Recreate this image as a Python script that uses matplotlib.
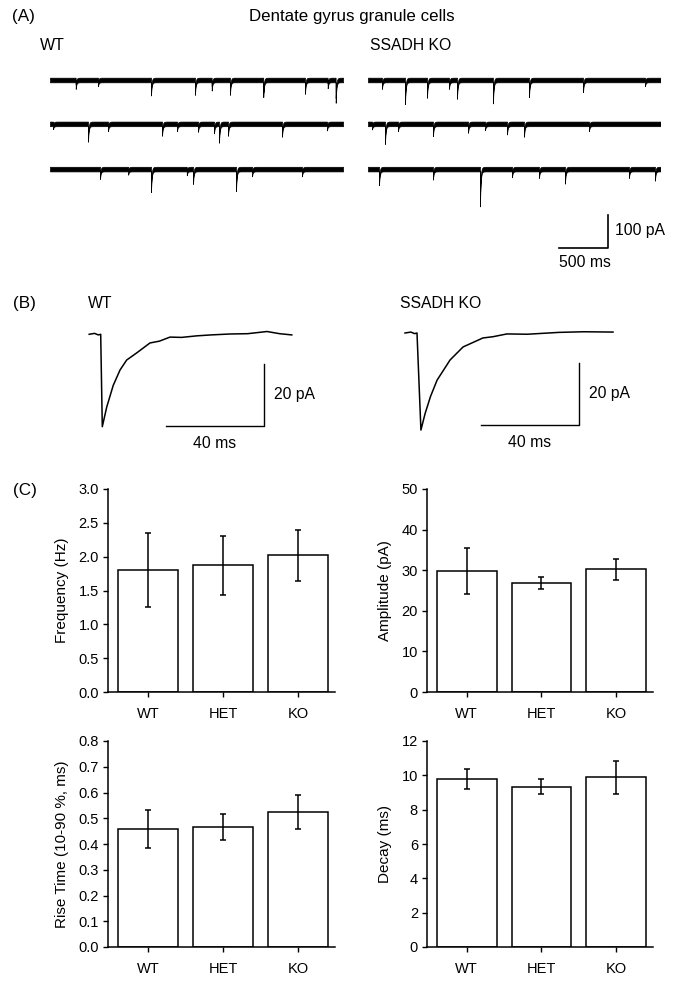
import numpy as np
from matplotlib import pyplot as plt

plt.rcParams['font.family'] = ['Liberation Sans', 'DejaVu Sans']

W, H = 678, 982

# --- (A) mEPSC events: (time ms, amplitude pA) ---
wt_r1 = [(263, 20), (491, 12), (1034, 40), (1484, 38), (1655, 25), (1842, 38),
         (2183, 45), (2610, 35), (2842, 18), (2924, 62)]
wt_r2 = [(31, 9), (389, 47), (594, 15), (1147, 29), (1300, 15), (1515, 17),
         (1679, 22), (1730, 50), (1822, 29), (2375, 32), (2835, 13)]
wt_r3 = [(512, 23), (800, 10), (1034, 63), (1400, 12), (1464, 38), (1904, 60),
         (2068, 15), (2579, 15)]
ko_r1 = [(143, 20), (379, 66), (604, 47), (829, 20), (911, 50), (1279, 64),
         (1648, 45), (2201, 30), (2835, 12)]
ko_r2 = [(41, 10), (174, 54), (307, 15), (665, 30), (1024, 20), (1198, 12),
         (1423, 25), (1597, 32), (2262, 15)]
ko_r3 = [(113, 42), (665, 25), (1146, 106), (1474, 18), (1750, 20), (2016, 37),
         (2671, 20), (2937, 28)]

# --- (B) averaged mEPSC (ms, pA) ---
avg_wt_t = [-4.7, -2.5, -1.0, 0.0, 0.65, 2.45, 5.1, 7.9, 10.6, 14.7, 20.1, 24.0,
            28.3, 33.0, 39.2, 45.0, 52.8, 60.0, 67.9, 73.0, 78.0]
avg_wt_i = [0.0, 0.3, -0.2, 0.0, -29.8, -23.5, -16.5, -11.5, -8.3, -6.0, -2.8, -2.2,
            -0.9, -1.0, -0.5, -0.2, 0.1, 0.2, 0.9, 0.2, -0.2]
avg_ko_t = [-4.9, -2.5, -1.0, 0.0, 1.6, 3.3, 5.5, 8.2, 13.5, 18.8, 23.0, 26.9,
            31.0, 36.7, 45.0, 58.0, 68.0, 80.0]
avg_ko_i = [0.0, 0.3, -0.2, 0.0, -31.3, -26.0, -20.5, -15.2, -8.7, -4.5, -3.0, -1.6,
            -1.2, -0.3, -0.4, 0.2, 0.4, 0.3]

# --- (C) summary bars ---
groups = ['WT', 'HET', 'KO']
freq_mean = [1.80, 1.87, 2.02]
freq_err = [0.55, 0.44, 0.38]
amp_mean = [29.8, 26.8, 30.2]
amp_err = [5.7, 1.5, 2.5]
rise_mean = [0.457, 0.466, 0.525]
rise_err = [0.074, 0.049, 0.066]
decay_mean = [9.77, 9.34, 9.89]
decay_err = [0.58, 0.42, 0.95]


def px_box(x0, y0, x1, y1):
    return [x0 / W, 1 - y1 / H, (x1 - x0) / W, (y1 - y0) / H]


def ftext(x, y, s, **kw):
    fig.text(x / W, 1 - y / H, s, **kw)


def build_trace(events, dur=3000.0, dt=0.5, tau=7.0):
    t = np.arange(0, dur, dt)
    y = np.zeros_like(t)
    for t0, a in events:
        m = t >= t0
        y[m] -= a * np.exp(-(t[m] - t0) / tau)
    return t, y


fig = plt.figure(figsize=(W / 100, H / 100), dpi=100)

# ---------------- panel A ----------------
ms_px = 0.0977   # px per ms
pa_px = 0.33     # px per pA
axA = fig.add_axes(px_box(50, 60, 660, 270))
axA.set_xlim(0, 610 / ms_px)
axA.set_ylim(-190 / pa_px, 20 / pa_px)
axA.axis('off')

row_off = [0, -133, -270]
ko_start = (368 - 50) / ms_px
band = 7.0
for rows, x0 in [((wt_r1, wt_r2, wt_r3), 0.0), ((ko_r1, ko_r2, ko_r3), ko_start)]:
    for ev, off in zip(rows, row_off):
        t, y = build_trace(ev)
        axA.fill_between(t + x0, y + off - band, y + off + band, color='black', lw=0.5)

# scale bar 100 pA / 500 ms
sb_x = (608 - 50) / ms_px
sb_y = -(248 - 80) / pa_px
axA.plot([sb_x - 500, sb_x, sb_x], [sb_y, sb_y, sb_y + 100], color='black', lw=1.2)
axA.text(sb_x + 70, sb_y + 52, '100 pA', fontsize=11.3, va='center', ha='left')
axA.text(sb_x - 235, sb_y - 45, '500 ms', fontsize=11.3, va='center', ha='center')

ftext(12, 17, '(A)', fontsize=12.3, va='center')
ftext(352, 16, 'Dentate gyrus granule cells', fontsize=12.2, va='center', ha='center')
ftext(40, 46, 'WT', fontsize=11.5, va='center')
ftext(370, 46, 'SSADH KO', fontsize=11.3, va='center')

# ---------------- panel B ----------------
bms = 2.45
bpa = 3.1
for (t, i, left, onset, base, lab_x) in [(avg_wt_t, avg_wt_i, 80, 100.7, 334.3, 88),
                                          (avg_ko_t, avg_ko_i, 395, 417, 333, 400)]:
    ax = fig.add_axes(px_box(left, 320, left + 250, 450))
    ax.set_xlim((left - onset) / bms, (left + 250 - onset) / bms)
    ax.set_ylim(-(450 - base) / bpa, (base - 320) / bpa)
    ax.axis('off')
    ax.plot(t, i, color='black', lw=1.1)
    bar_x = (left + 184 - onset) / bms
    ax.plot([bar_x - 40, bar_x, bar_x], [-29.6, -29.6, -9.6], color='black', lw=1.0)
    ax.text(bar_x + 4, -19.5, '20 pA', fontsize=11.3, va='center', ha='left')
    ax.text(bar_x - 20, -35.2, '40 ms', fontsize=11.3, va='center', ha='center')
    ftext(lab_x, 303, 'WT' if left == 80 else 'SSADH KO', fontsize=11.3, va='center')

ftext(13, 303, '(B)', fontsize=12.3, va='center')

# ---------------- panel C ----------------
ftext(13, 490, '(C)', fontsize=12.3, va='center')

panels = [
    (px_box(108, 489, 335, 692), freq_mean, freq_err, 'Frequency (Hz)', np.arange(0, 3.01, 0.5), '%.1f'),
    (px_box(427, 489, 653, 692), amp_mean, amp_err, 'Amplitude (pA)', np.arange(0, 51, 10), '%d'),
    (px_box(108, 741, 335, 947), rise_mean, rise_err, 'Rise Time (10-90 %, ms)', np.arange(0, 0.81, 0.1), '%.1f'),
    (px_box(427, 741, 653, 947), decay_mean, decay_err, 'Decay (ms)', np.arange(0, 12.1, 2), '%d'),
]

x = np.arange(len(groups))
for box, m, e, ylab, yt, fmt in panels:
    ax = fig.add_axes(box)
    ax.bar(x, m, width=0.8, color='white', edgecolor='black', lw=1.1, zorder=2)
    ax.errorbar(x, m, yerr=e, fmt='none', ecolor='black', elinewidth=1.1,
                capsize=2.5, capthick=1.1, zorder=3)
    ax.set_xlim(-0.53, 2.49)
    ax.set_ylim(0, yt[-1])
    ax.set_yticks(yt)
    ax.set_yticklabels([fmt % v for v in yt])
    ax.set_xticks(x)
    ax.set_xticklabels(groups)
    ax.set_ylabel(ylab, fontsize=11, labelpad=7)
    ax.tick_params(direction='out', length=3.5, width=1, labelsize=10.5, pad=3)
    ax.tick_params(axis='x', pad=7)
    ax.spines['top'].set_visible(False)
    ax.spines['right'].set_visible(False)
    ax.spines['left'].set_linewidth(1.1)
    ax.spines['bottom'].set_linewidth(1.1)

fig.savefig('out.png', dpi=100)
